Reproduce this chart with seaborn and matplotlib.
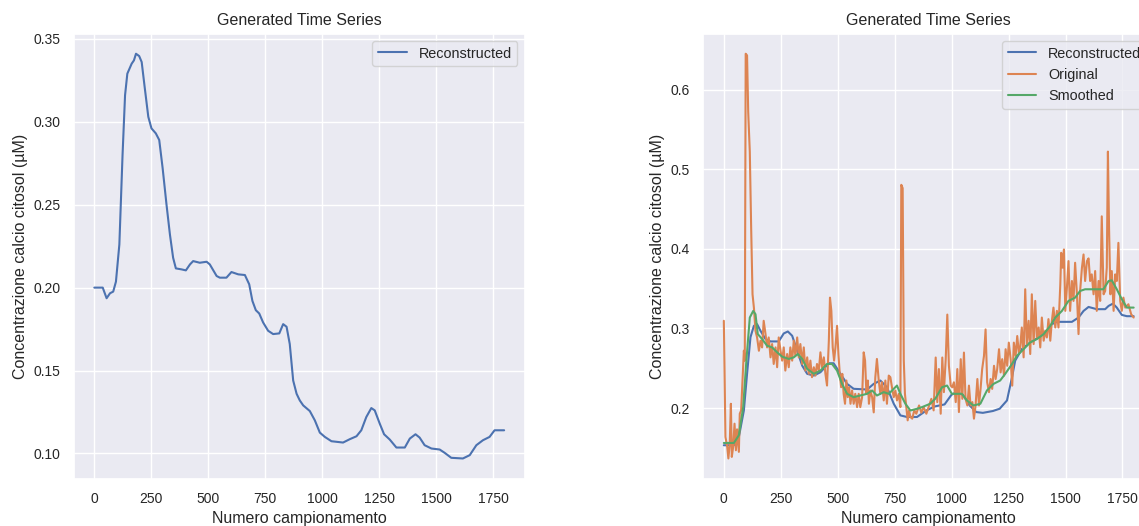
import matplotlib
matplotlib.use("Agg")
import matplotlib.pyplot as plt
import pandas as pd
import seaborn as sns

# ---- Left panel: reconstructed series -------------------------------------
left_x = [0, 37, 54, 69, 83, 95, 110, 124, 135, 145,
          164, 174, 183, 197, 208, 221, 237, 251, 270, 285,
          300, 317, 332, 346, 358, 383, 402, 420, 434, 463,
          493, 507, 537, 551, 580, 602, 632, 661, 680, 694,
          709, 724, 741, 763, 785, 812, 829, 844, 858, 873,
          888, 902, 917, 946, 968, 990, 1012, 1041, 1092, 1121,
          1151, 1172, 1194, 1216, 1231, 1253, 1272, 1297, 1326, 1363,
          1385, 1410, 1428, 1450, 1480, 1516, 1538, 1567, 1618, 1648,
          1677, 1706, 1735, 1757, 1770, 1799]
left_y = [0.200, 0.200, 0.1936, 0.1966, 0.1976, 0.2036, 0.226, 0.280, 0.316, 0.329,
          0.335, 0.337, 0.341, 0.3396, 0.336, 0.321, 0.303, 0.296, 0.293, 0.289,
          0.272, 0.250, 0.232, 0.218, 0.2116, 0.211, 0.2104, 0.214, 0.216, 0.215,
          0.2156, 0.214, 0.207, 0.206, 0.206, 0.2094, 0.208, 0.2076, 0.202, 0.192,
          0.1864, 0.1844, 0.179, 0.174, 0.172, 0.1724, 0.178, 0.1764, 0.166, 0.144,
          0.136, 0.132, 0.129, 0.1256, 0.120, 0.1126, 0.110, 0.1074, 0.1066, 0.1086,
          0.1104, 0.114, 0.122, 0.1274, 0.126, 0.118, 0.1116, 0.1084, 0.1036, 0.1036,
          0.109, 0.1116, 0.1096, 0.105, 0.103, 0.1024, 0.1004, 0.0974, 0.097, 0.099,
          0.105, 0.108, 0.110, 0.114, 0.114, 0.114]

# ---- Right panel: reconstructed / original / smoothed ----------------------
rec_x = [0, 44, 66, 88, 102, 117, 132, 146, 161, 183,
         205, 241, 263, 281, 300, 322, 344, 366, 395, 424,
         461, 482, 512, 541, 570, 629, 658, 687, 716, 746,
         775, 804, 848, 889, 925, 969, 999, 1020, 1050, 1079,
         1108, 1137, 1181, 1211, 1243, 1265, 1279, 1308, 1345, 1382,
         1418, 1440, 1462, 1528, 1557, 1579, 1601, 1637, 1674, 1689,
         1708, 1725, 1747, 1769, 1799]
rec_y = [0.1533, 0.1533, 0.1637, 0.197, 0.243, 0.289, 0.3033, 0.3054, 0.297, 0.2867,
         0.2837, 0.2837, 0.2937, 0.2962, 0.2908, 0.272, 0.2533, 0.243, 0.2408, 0.245,
         0.2563, 0.2563, 0.243, 0.2304, 0.2242, 0.2233, 0.2304, 0.2346, 0.2262, 0.2054,
         0.1908, 0.1888, 0.1888, 0.197, 0.202, 0.2046, 0.2166, 0.220, 0.2166, 0.2033,
         0.195, 0.194, 0.1963, 0.1992, 0.2096, 0.2387, 0.2596, 0.274, 0.2825, 0.2887,
         0.297, 0.3054, 0.3083, 0.3083, 0.3137, 0.322, 0.327, 0.3242, 0.3242, 0.3283,
         0.3312, 0.3262, 0.317, 0.3154, 0.3154]

orig_x = [0, 3, 7, 15, 20, 26, 31, 35, 41, 47,
          53, 58, 66, 70, 76, 82, 88, 92, 96, 102,
          107, 114, 120, 126, 132, 139, 146, 154, 161, 168,
          175, 183, 190, 197, 205, 212, 219, 227, 234, 241,
          249, 256, 263, 270, 278, 285, 292, 300, 307, 314,
          322, 329, 336, 344, 351, 358, 366, 373, 380, 387,
          395, 402, 409, 417, 424, 431, 439, 446, 453, 461,
          466, 472, 478, 484, 490, 497, 503, 509, 515, 520,
          526, 532, 538, 544, 550, 556, 563, 570, 577, 585,
          592, 599, 607, 614, 620, 626, 632, 637, 643, 651,
          658, 665, 672, 680, 687, 694, 702, 709, 716, 724,
          731, 738, 746, 753, 760, 768, 775, 779, 785, 790,
          795, 801, 807, 813, 819, 827, 836, 845, 857, 867,
          877, 889, 901, 911, 921, 930, 937, 944, 952, 959,
          966, 974, 981, 988, 996, 1003, 1010, 1018, 1025, 1032,
          1040, 1047, 1054, 1061, 1069, 1076, 1083, 1091, 1098, 1105,
          1113, 1120, 1127, 1134, 1142, 1149, 1156, 1164, 1171, 1178,
          1186, 1193, 1200, 1208, 1215, 1222, 1230, 1237, 1244, 1251,
          1259, 1266, 1273, 1281, 1288, 1295, 1301, 1308, 1316, 1323,
          1330, 1338, 1345, 1352, 1360, 1367, 1374, 1382, 1389, 1396,
          1404, 1411, 1418, 1425, 1433, 1440, 1447, 1455, 1462, 1469,
          1477, 1481, 1487, 1493, 1499, 1506, 1513, 1520, 1528, 1535,
          1542, 1550, 1557, 1564, 1572, 1579, 1586, 1594, 1601, 1608,
          1615, 1623, 1630, 1637, 1645, 1652, 1659, 1667, 1674, 1681,
          1686, 1691, 1697, 1703, 1711, 1718, 1725, 1732, 1740, 1747,
          1754, 1762, 1776, 1788, 1799]
orig_y = [0.3096, 0.2513, 0.1637, 0.1512, 0.1367, 0.1554, 0.2054, 0.1387, 0.1512, 0.1804,
          0.147, 0.1733, 0.145, 0.1929, 0.197, 0.2346, 0.2721, 0.2596, 0.645, 0.6429,
          0.572, 0.522, 0.4262, 0.3429, 0.3262, 0.297, 0.2887, 0.272, 0.2846, 0.2762,
          0.3096, 0.2929, 0.2762, 0.2887, 0.2637, 0.2804, 0.2554, 0.2762, 0.2513, 0.2887,
          0.272, 0.2596, 0.2762, 0.2471, 0.2679, 0.2513, 0.2762, 0.2596, 0.2846, 0.2658,
          0.2887, 0.2637, 0.2804, 0.2554, 0.2762, 0.2471, 0.2637, 0.243, 0.2596, 0.2388,
          0.2513, 0.2408, 0.2554, 0.2471, 0.270, 0.2513, 0.2637, 0.243, 0.2283, 0.2846,
          0.3387, 0.322, 0.2762, 0.2596, 0.2762, 0.3033, 0.2679, 0.243, 0.2262, 0.243,
          0.2179, 0.2054, 0.2346, 0.2137, 0.2262, 0.2054, 0.2221, 0.2054, 0.2179, 0.2012,
          0.2179, 0.2012, 0.2137, 0.270, 0.2596, 0.2179, 0.2346, 0.2054, 0.2221, 0.2137,
          0.1946, 0.2388, 0.2617, 0.2346, 0.2179, 0.2325, 0.2096, 0.2346, 0.2054, 0.2408,
          0.2388, 0.2262, 0.2137, 0.2221, 0.2096, 0.2179, 0.2012, 0.4804, 0.4762, 0.2596,
          0.2179, 0.2012, 0.1846, 0.1971, 0.1888, 0.1867, 0.1971, 0.1929, 0.2033, 0.1942,
          0.2012, 0.1929, 0.2033, 0.2116, 0.1971, 0.2635, 0.2075, 0.249, 0.1929, 0.2635,
          0.220, 0.2614, 0.3174, 0.2531, 0.2282, 0.2261, 0.2324, 0.2075, 0.249, 0.195,
          0.2614, 0.2116, 0.2697, 0.2116, 0.2033, 0.2282, 0.2033, 0.2075, 0.1867, 0.2033,
          0.2365, 0.2033, 0.2241, 0.249, 0.2656, 0.2988, 0.2324, 0.220, 0.2365, 0.2241,
          0.2531, 0.2365, 0.249, 0.2739, 0.2448, 0.2614, 0.2407, 0.2739, 0.2531, 0.2822,
          0.2614, 0.2282, 0.2822, 0.2656, 0.2905, 0.2697, 0.2762, 0.3012, 0.2637, 0.3492,
          0.2804, 0.3096, 0.2679, 0.3429, 0.2804, 0.3346, 0.2887, 0.3012, 0.2762, 0.3137,
          0.2846, 0.2971, 0.2887, 0.3117, 0.2846, 0.3096, 0.3262, 0.3012, 0.3221, 0.3012,
          0.3554, 0.395, 0.3763, 0.3992, 0.3221, 0.3512, 0.3846, 0.3221, 0.3596, 0.3346,
          0.3825, 0.3429, 0.2929, 0.3471, 0.3763, 0.3929, 0.3596, 0.3846, 0.388, 0.3596,
          0.3679, 0.3429, 0.3721, 0.3221, 0.3596, 0.3346, 0.4408, 0.3429, 0.3471, 0.3763,
          0.5221, 0.4262, 0.3429, 0.3721, 0.3221, 0.3679, 0.3596, 0.4075, 0.3346, 0.3221,
          0.3387, 0.3262, 0.3304, 0.3179, 0.3137]

smooth_x = [0, 44, 66, 85, 99, 114, 129, 139, 149, 168,
            190, 212, 234, 256, 285, 307, 325, 344, 366, 395,
            424, 453, 475, 497, 519, 541, 570, 599, 629, 651,
            672, 702, 724, 746, 760, 775, 797, 819, 848, 870,
            906, 928, 958, 980, 1001, 1045, 1067, 1096, 1126, 1155,
            1184, 1213, 1235, 1265, 1287, 1316, 1345, 1374, 1404, 1433,
            1455, 1484, 1513, 1542, 1564, 1586, 1666, 1689, 1703, 1725,
            1747, 1769, 1799]
smooth_y = [0.1562, 0.1562, 0.1658, 0.2012, 0.2596, 0.3137, 0.322, 0.3179, 0.2929, 0.2867,
            0.2783, 0.2762, 0.270, 0.2646, 0.2617, 0.2637, 0.2679, 0.2617, 0.2492, 0.243,
            0.2471, 0.2554, 0.2554, 0.2471, 0.2304, 0.2179, 0.2137, 0.2158, 0.2179, 0.2221,
            0.2158, 0.220, 0.2179, 0.2242, 0.2283, 0.2179, 0.2054, 0.197, 0.1991, 0.2012,
            0.2054, 0.2117, 0.2262, 0.2283, 0.2179, 0.2179, 0.2096, 0.2033, 0.2054, 0.2221,
            0.2304, 0.2346, 0.2429, 0.2554, 0.2658, 0.274, 0.2825, 0.2866, 0.2929, 0.3033,
            0.3137, 0.322, 0.3346, 0.3387, 0.3471, 0.3492, 0.3492, 0.3596, 0.3604, 0.3492,
            0.3367, 0.3262, 0.3262]

series_order = ["Reconstructed", "Original", "Smoothed"]

TITLE = "Generated Time Series"
XLABEL = "Numero campionamento"
YLABEL = "Concentrazione calcio citosol (µM)"

sns.set_theme(style="darkgrid", palette="deep")
plt.rcParams["font.family"] = ["Liberation Sans", "DejaVu Sans"]
plt.rcParams["xtick.labelsize"] = 10
plt.rcParams["ytick.labelsize"] = 10
plt.rcParams["legend.fontsize"] = 10.4

fig = plt.figure(figsize=(11.39, 5.26), dpi=100)
ax1 = fig.add_axes([0.0648, 0.0899, 0.3958, 0.8464])
ax2 = fig.add_axes([0.6175, 0.0899, 0.3958, 0.8464])

# left: single reconstructed curve
sns.lineplot(x=left_x, y=left_y, ax=ax1, label="Reconstructed")
ax1.legend(loc="upper right")

# right: the three series in long form
frames = [
    pd.DataFrame({"campione": rec_x, "valore": rec_y, "serie": "Reconstructed"}),
    pd.DataFrame({"campione": orig_x, "valore": orig_y, "serie": "Original"}),
    pd.DataFrame({"campione": smooth_x, "valore": smooth_y, "serie": "Smoothed"}),
]
df = pd.concat(frames, ignore_index=True)
sns.lineplot(data=df, x="campione", y="valore", hue="serie",
             hue_order=series_order, estimator=None, sort=True, ax=ax2)
handles, labels = ax2.get_legend_handles_labels()
ax2.legend(handles, labels, loc="upper right")

for ax in (ax1, ax2):
    ax.set_title(TITLE, fontsize=11.5)
    ax.set_xlabel(XLABEL, fontsize=11.5)
    ax.set_ylabel(YLABEL, fontsize=11.5)

fig.savefig("out.png", dpi=100)
